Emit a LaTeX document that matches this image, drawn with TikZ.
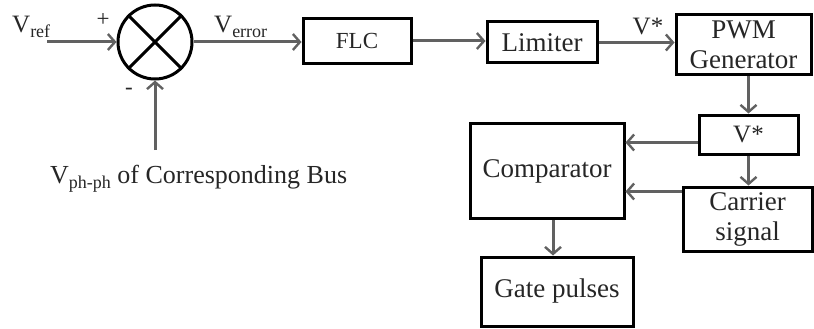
\documentclass[tikz,border=0pt]{standalone}
\usepackage{fontspec}
\setmainfont{Liberation Serif}
\usetikzlibrary{arrows.meta}
\newcommand{\mysub}[1]{\raisebox{-5pt}{\fontsize{18}{20}\selectfont #1}}
\begin{document}
\begin{tikzpicture}[x=1pt,y=-1pt,
 blk/.style={draw=black,line width=3pt,inner sep=0pt,align=center,text=black!85,font=\fontsize{27}{30}\selectfont},
 conn/.style={draw=black!62,line width=3pt,-{Straight Barb[length=7pt,width=16pt,line width=2.4pt]}},
 lbl/.style={inner sep=0pt,text=black!85,font=\fontsize{25}{29}\selectfont},
 sgn/.style={inner sep=0pt,text=black!85,font=\fontsize{23}{25}\selectfont}]
\useasboundingbox (0,0) rectangle (814,329);
% summing junction
\node[draw=black,circle,line width=3pt,minimum size=74pt,inner sep=0pt] (sum) at (155,42) {};
\draw[line width=3pt] (sum.north west) -- (sum.south east);
\draw[line width=3pt] (sum.north east) -- (sum.south west);
% blocks
\node[blk,minimum width=108pt,minimum height=45pt,font=\fontsize{23}{26}\selectfont] (flc) at (357,41) {FLC};
\node[blk,minimum width=110pt,minimum height=41pt] (lim) at (542,42.5) {Limiter};
\node[blk,minimum width=135pt,minimum height=60pt] (pwm) at (743.5,45) {PWM\\Generator};
\node[blk,minimum width=99pt,minimum height=39pt,font=\fontsize{25}{28}\selectfont] (vbox) at (748.5,134.5) {V*};
\node[blk,minimum width=129pt,minimum height=64pt] (car) at (747.5,219) {Carrier\\signal};
\node[blk,minimum width=154pt,minimum height=95pt] (comp) at (547,171) {Comparator};
\node[blk,minimum width=152pt,minimum height=69pt] (gate) at (557,291.5) {Gate pulses};
% labels
\node[lbl,anchor=base west] (vref) at (12,33) {V\mysub{ref}};
\node[lbl,anchor=base west] (verr) at (214,33) {V\mysub{error}};
\node[sgn] (plus) at (103,20) {+};
\node[sgn] (minus) at (129,91) {-};
\node[lbl] (vstar) at (648,27) {V*};
\node[lbl,anchor=base west,font=\fontsize{26}{30}\selectfont] (vph) at (50,183) {V\mysub{ph-ph} of Corresponding Bus};
% connectors
\coordinate (vin) at (47,42);
\coordinate (vbot) at (155,150);
\draw[conn] (vin) -- (sum.west);
\draw[conn] (vbot) -- (sum.south);
\draw[conn] (sum.east) -- (sum.east -| flc.west);
\draw[conn] (flc.east) -- (flc.east -| lim.west);
\draw[conn] (lim.east) -- (lim.east -| pwm.west);
\draw[conn] (pwm.south -| vbox.north) -- (vbox.north);
\draw[conn] ([yshift=-8pt]vbox.west) -- ([yshift=-8pt]vbox.west -| comp.east);
\draw[conn] (vbox.south) -- (vbox.south |- car.north);
\draw[conn] ([yshift=-6pt]car.north west) -- ([yshift=-6pt]car.north west -| comp.east);
\draw[conn] ([xshift=6pt]comp.south) -- ([xshift=6pt]comp.south |- gate.north);
\end{tikzpicture}
\end{document}
